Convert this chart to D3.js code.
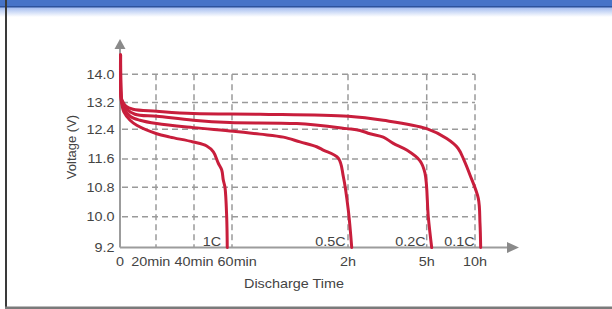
<!DOCTYPE html>
<html>
<head>
<meta charset="utf-8">
<script src="https://cdn.jsdelivr.net/npm/d3@7"></script>
<style>
  html, body { margin: 0; padding: 0; background: #fff; }
  svg { display: block; }
  text { font-family: "Liberation Sans", Arial, sans-serif; fill: #444; }
</style>
</head>
<body>
<svg id="chart" width="612" height="309"></svg>
<script>
// ---- data ----
const xTickValues = [0, 20, 40, 60, 120, 300, 600];          // minutes
const xTickLabels = ["0", "20min", "40min", "60min", "2h", "5h", "10h"];
const yTickValues = [9.2, 10.0, 10.8, 11.6, 12.4, 13.2, 14.0];
const yTickLabels = ["9.2", "10.0", "10.8", "11.6", "12.4", "13.2", "14.0"];
const seriesNames = ["1C", "0.5C", "0.2C", "0.1C"];

// [minutes, volts]
const curve1C = [[0.3,14.55],[0.56,13.41],[0.83,13.21],[2.2,12.91],[5.6,12.67],[9.3,12.52],[20.4,12.28],[27.4,12.19],[39.6,12.06],[46.7,11.95],[50.2,11.79],[52.8,11.48],[54.6,11.29],[55.4,11.01],[56.3,10.8],[57.2,10.0],[57.5,9.2]];
const curve05C = [[0.3,14.55],[0.56,13.41],[0.83,13.24],[2.2,13.03],[5.6,12.79],[11.1,12.67],[20.4,12.57],[39.6,12.45],[60.7,12.35],[74.5,12.27],[86.6,12.19],[95.2,12.06],[103.8,11.93],[107.2,11.84],[115,11.62],[117.6,11.1],[120.7,10.18],[128.5,9.2]];
const curve02C = [[0.3,14.55],[0.56,13.41],[1.1,13.24],[3.3,13.03],[8.3,12.85],[20.4,12.79],[39.6,12.67],[58.9,12.6],[93.5,12.57],[119.3,12.42],[147.4,12.37],[170.3,12.28],[200.7,12.19],[223.6,12.02],[254.3,11.84],[284.7,11.55],[296.1,11.2],[309.9,10.0],[331,9.2]];
const curve01C = [[0.3,14.55],[0.56,13.41],[1.1,13.27],[3.3,13.09],[7.2,13.0],[20.4,12.94],[39.6,12.87],[74.5,12.85],[120.7,12.79],[200.7,12.67],[300,12.42],[424.2,12.15],[494.4,11.89],[531.6,11.57],[568.9,11.15],[620.5,10.5],[631,9.83],[635.3,9.2]];
const curves = [curve1C, curve05C, curve02C, curve01C];

// ---- layout ----
const svg = d3.select("#chart");
const x = d3.scaleLinear().domain(xTickValues).range([120, 156, 194, 232, 348, 426.7, 475]);
const y = d3.scaleLinear().domain(yTickValues).range([247.5, 216.8, 187.3, 159, 129.3, 102.5, 74.3]);
const red = "#c81e3c";
const gridColor = "#9a9a9a";
const axisColor = "#9c9c9c";
const hStretch = 1.2;
const fs = "12px";

// ---- frame ----
const defs = svg.append("defs");
const grad = defs.append("linearGradient").attr("id", "topfade").attr("x1", 0).attr("y1", 0).attr("x2", 0).attr("y2", 1);
grad.append("stop").attr("offset", "0%").attr("stop-color", "#9fb9ef");
grad.append("stop").attr("offset", "100%").attr("stop-color", "#ffffff");
svg.append("rect").attr("x", 0).attr("y", 7).attr("width", 612).attr("height", 10).attr("fill", "url(#topfade)");
svg.append("rect").attr("x", 0).attr("y", 0).attr("width", 612).attr("height", 6).attr("fill", "#4673c8");
svg.append("rect").attr("x", 0).attr("y", 6).attr("width", 612).attr("height", 1.5).attr("fill", "#2d529c");
svg.append("rect").attr("x", 5).attr("y", 0).attr("width", 2).attr("height", 309).attr("fill", "#3a3a3a");
svg.append("rect").attr("x", 5).attr("y", 306.5).attr("width", 607).attr("height", 2.5).attr("fill", "#7a7a7a");

// ---- grid ----
const grid = svg.append("g").attr("stroke", gridColor).attr("stroke-width", 1.5).attr("stroke-dasharray", "6,4").attr("fill", "none");
grid.selectAll("line.h").data(yTickValues.slice(1)).join("line")
  .attr("x1", x(0) + 2).attr("x2", x(600)).attr("y1", d => y(d)).attr("y2", d => y(d));
grid.selectAll("line.v").data(xTickValues.slice(1)).join("line")
  .attr("x1", d => x(d)).attr("x2", d => x(d)).attr("y1", y(14.0)).attr("y2", y(9.2));

// ---- axes ----
const ax = svg.append("g");
ax.append("line").attr("x1", x(0)).attr("x2", x(0)).attr("y1", y(9.2)).attr("y2", 47)
  .attr("stroke", axisColor).attr("stroke-width", 2);
ax.append("line").attr("x1", x(0)).attr("x2", 508).attr("y1", y(9.2)).attr("y2", y(9.2))
  .attr("stroke", axisColor).attr("stroke-width", 2);
ax.append("path").attr("d", `M${x(0)},39 L${x(0)-5.5},49 L${x(0)+5.5},49 Z`).attr("fill", "#8a8a8a");
ax.append("path").attr("d", `M519,${y(9.2)} L507,${y(9.2)-5.5} L507,${y(9.2)+5.5} Z`).attr("fill", "#8a8a8a");

// y tick labels
svg.append("g").selectAll("text").data(yTickValues).join("text")
  .attr("transform", d => `translate(114.5,${y(d) + 4.4}) scale(${hStretch},1)`)
  .attr("text-anchor", "end").attr("font-size", fs)
  .text((d, i) => yTickLabels[i]);

// x tick labels, spread apart where they would collide
const xLab = svg.append("g").selectAll("text").data(xTickValues).join("text")
  .attr("text-anchor", "middle").attr("font-size", fs)
  .text((d, i) => xTickLabels[i]);
const items = [];
xLab.each(function(d) {
  items.push({ el: this, c: x(d), w: this.getComputedTextLength() * hStretch });
});
const minGap = 4;
for (let it = 0; it < 60; it++) {
  for (let i = 1; i < items.length; i++) {
    const a = items[i - 1], b = items[i];
    const need = (a.w + b.w) / 2 + minGap;
    const have = b.c - a.c;
    if (have < need) {
      const push = (need - have) / 2;
      a.c -= push; b.c += push;
    }
  }
}
items.forEach(o => d3.select(o.el).attr("transform", `translate(${o.c},266) scale(${hStretch},1)`));

// axis titles
svg.append("text").attr("transform", `translate(294,288) scale(${hStretch},1)`)
  .attr("text-anchor", "middle").attr("font-size", fs).text("Discharge Time");
svg.append("text").attr("transform", "translate(76,147) rotate(-90)")
  .attr("text-anchor", "middle").attr("font-size", "13px").text("Voltage (V)");

// ---- curves ----
const line = d3.line().x(d => x(d[0])).y(d => y(d[1])).curve(d3.curveCatmullRom.alpha(0.5));
svg.append("g").selectAll("path").data(curves).join("path")
  .attr("d", line).attr("fill", "none").attr("stroke", red)
  .attr("stroke-width", 3).attr("stroke-linejoin", "round").attr("stroke-linecap", "round");

// curve labels
svg.append("g").selectAll("text").data(curves).join("text")
  .attr("transform", d => `translate(${x(d[d.length - 1][0]) - 6},245.5) scale(${hStretch},1)`)
  .attr("text-anchor", "end").attr("font-size", fs)
  .text((d, i) => seriesNames[i]);
</script>
</body>
</html>
